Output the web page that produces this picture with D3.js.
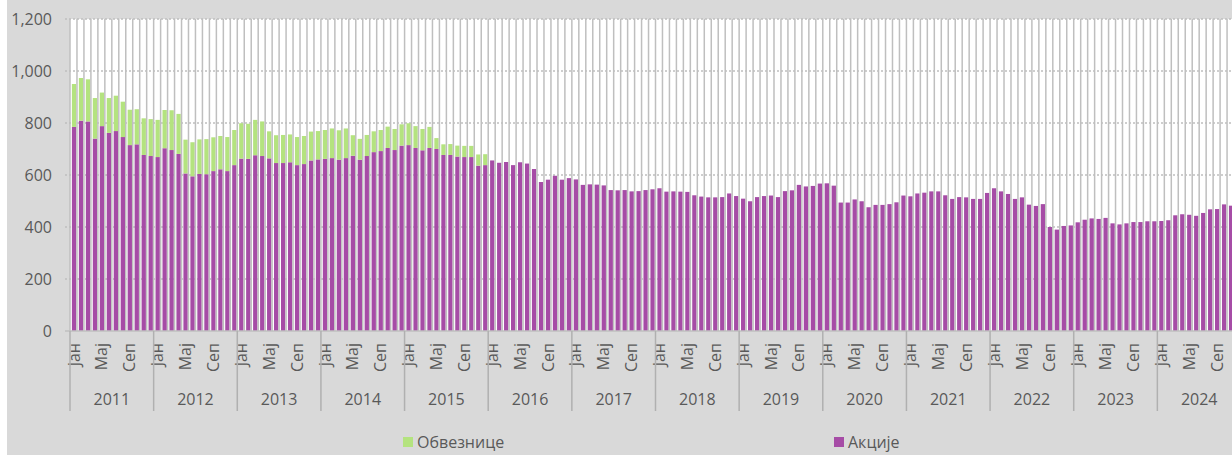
<!DOCTYPE html>
<html>
<head>
<meta charset="utf-8">
<script src="https://cdn.jsdelivr.net/npm/d3@7"></script>
<style>
    html, body { margin: 0; padding: 0; background: #ffffff; }
    svg { display: block; }
    text { font-family: "Open Sans", "DejaVu Sans", sans-serif; fill: #595959; }
</style>
</head>
<body>
<div id="chart"></div>
<script>
// years on the x axis, one group of 12 months each
const years = ["2011", "2012", "2013", "2014", "2015", "2016", "2017",
    "2018", "2019", "2020", "2021", "2022", "2023", "2024"];

// month labels shown under the bars (Jan, May, Sep)
const monthLabels = { 0: "Јан", 4: "Мај", 8: "Сеп" };

const yTicks = [0, 200, 400, 600, 800, 1000, 1200];

// Акције, monthly, Jan 2011 - Dec 2024
const akcije = [
    785, 809, 806, 740, 788, 762, 769, 746, 715, 718, 677, 673,
    669, 703, 696, 681, 606, 595, 604, 603, 615, 622, 615, 638,
    663, 662, 676, 673, 664, 646, 646, 649, 638, 642, 656, 660,
    662, 665, 659, 665, 674, 659, 673, 688, 692, 704, 696, 713,
    715, 704, 695, 704, 700, 677, 677, 671, 669, 669, 636, 638,
    656, 647, 650, 638, 649, 644, 623, 573, 582, 597, 582, 588,
    583, 562, 564, 563, 560, 542, 541, 542, 537, 538, 542, 545,
    549, 536, 537, 536, 535, 522, 517, 514, 514, 515, 529, 519,
    509, 499, 515, 519, 521, 515, 538, 541, 562, 556, 558, 567,
    568, 559, 494, 494, 506, 499, 476, 485, 485, 488, 495, 521,
    518, 529, 532, 537, 537, 522, 508, 515, 514, 508, 508, 531,
    549, 537, 527, 508, 514, 486, 481, 488, 400, 390, 404, 406,
    418, 428, 433, 431, 435, 414, 410, 414, 419, 419, 422, 422,
    423, 426, 445, 449, 447, 443, 454, 468, 469, 487, 482, 490
];

// Обвезнице, monthly, only until end of 2015
const obveznice = [
    165, 164, 162, 156, 129, 134, 136, 136, 136, 135, 141, 142,
    143, 147, 153, 154, 130, 131, 133, 135, 130, 128, 131, 135,
    136, 135, 136, 133, 104, 107, 108, 107, 108, 108, 111, 109,
    111, 114, 113, 114, 79, 80, 81, 80, 81, 82, 81, 82,
    84, 84, 82, 81, 42, 41, 42, 42, 43, 43, 43, 42
];

(function () {
    const W = 1232, H = 455;
    const plot = { left: 70, top: 19, bottom: 331, right: 1241 };

    const colAkcije = "#a64ca6";
    const colObveznice = "#b4e37f";
    const gridColor = "#bfbfbf";

    const data = akcije.map((a, i) => ({
        i: i,
        akcije: a,
        obveznice: obveznice[i] || 0
    }));

    const svg = d3.select("#chart")
        .append("svg")
        .attr("width", W)
        .attr("height", H);

    // grey chart area + white plot area
    svg.append("rect")
        .attr("x", 7).attr("y", 0)
        .attr("width", W - 7).attr("height", H)
        .attr("fill", "#d9d9d9");

    svg.append("rect")
        .attr("x", plot.left).attr("y", plot.top)
        .attr("width", W - plot.left).attr("height", plot.bottom - plot.top)
        .attr("fill", "#ffffff");

    const x = d3.scaleBand()
        .domain(d3.range(data.length))
        .range([plot.left, plot.right]);

    const y = d3.scaleLinear()
        .domain([0, 1200])
        .range([plot.bottom, plot.top]);

    const step = x.step();
    const barW = step * 0.62;
    const barOff = step * 0.27;

    // horizontal dotted gridlines
    svg.append("g")
        .selectAll("line")
        .data(yTicks.filter(d => d > 0))
        .join("line")
        .attr("x1", plot.left - 5)
        .attr("x2", W)
        .attr("y1", d => y(d))
        .attr("y2", d => y(d))
        .attr("stroke", gridColor)
        .attr("stroke-width", 1.5)
        .attr("stroke-dasharray", "2,2");

    // stacked bars
    const stack = d3.stack().keys(["akcije", "obveznice"])(data);
    const colors = [colAkcije, colObveznice];

    svg.append("g")
        .selectAll("g")
        .data(stack)
        .join("g")
        .attr("fill", (d, k) => colors[k])
        .selectAll("rect")
        .data(d => d.filter(s => s[1] > s[0]))
        .join("rect")
        .attr("x", d => x(d.data.i) + barOff)
        .attr("y", d => y(d[1]))
        .attr("width", barW)
        .attr("height", d => y(d[0]) - y(d[1]));

    // vertical gridlines between months
    svg.append("g")
        .selectAll("line")
        .data(d3.range(data.length + 1))
        .join("line")
        .attr("x1", d => plot.left + d * step)
        .attr("x2", d => plot.left + d * step)
        .attr("y1", plot.top)
        .attr("y2", plot.bottom)
        .attr("stroke", gridColor)
        .attr("stroke-width", 1.5);

    // y axis
    const yAxis = svg.append("g")
        .attr("transform", `translate(${plot.left},0)`)
        .call(d3.axisLeft(y)
            .tickValues(yTicks)
            .tickSize(0)
            .tickPadding(18)
            .tickFormat(d3.format(",")));
    yAxis.select(".domain").remove();
    yAxis.selectAll("text")
        .style("font-size", "16px")
        .attr("fill", "#595959");

    // baseline
    svg.append("line")
        .attr("x1", plot.left - 5).attr("x2", W)
        .attr("y1", y(0)).attr("y2", y(0))
        .attr("stroke", gridColor)
        .attr("stroke-width", 1.5);

    // month labels
    svg.append("g")
        .selectAll("text")
        .data(data.filter(d => monthLabels[d.i % 12] !== undefined))
        .join("text")
        .attr("transform", d => `translate(${x(d.i) + step / 2 + 0.5},343) rotate(-90)`)
        .attr("dy", "0.35em")
        .attr("text-anchor", "end")
        .style("font-size", "16px")
        .text(d => monthLabels[d.i % 12]);

    // year separators and labels
    svg.append("g")
        .selectAll("line")
        .data(d3.range(years.length + 1))
        .join("line")
        .attr("x1", k => plot.left + k * 12 * step)
        .attr("x2", k => plot.left + k * 12 * step)
        .attr("y1", plot.bottom)
        .attr("y2", 411)
        .attr("stroke", "#b0b0b0")
        .attr("stroke-width", 1.5);

    svg.append("g")
        .selectAll("text")
        .data(years)
        .join("text")
        .attr("x", (d, k) => x(k * 12) + 6 * step)
        .attr("y", 405)
        .attr("text-anchor", "middle")
        .style("font-size", "16px")
        .text(d => d);

    // legend
    const legend = [
        { name: "Обвезнице", color: colObveznice, x: 403 },
        { name: "Акције", color: colAkcije, x: 834 }
    ];

    const lg = svg.append("g")
        .selectAll("g")
        .data(legend)
        .join("g")
        .attr("transform", d => `translate(${d.x},437)`);

    lg.append("rect")
        .attr("width", 10)
        .attr("height", 10)
        .attr("fill", d => d.color);

    lg.append("text")
        .attr("x", 14)
        .attr("y", 11)
        .style("font-size", "16px")
        .text(d => d.name);
})();
</script>
</body>
</html>
